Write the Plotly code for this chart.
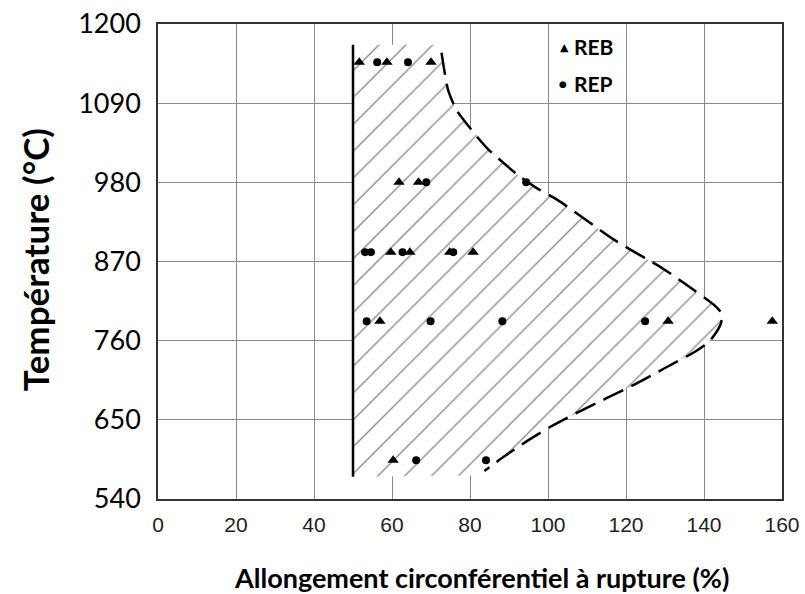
import plotly.graph_objects as go

# ---- data ----
reb_elong = [51.6, 58.7, 70.0, 61.8, 66.8, 59.7, 64.6, 74.8, 80.8, 56.9, 130.8, 157.5, 60.3]
reb_temp = [1147, 1147, 1147, 980, 980, 883, 883, 883, 883, 787, 787, 787, 594]

rep_elong = [56.2, 64.1, 68.8, 94.4, 53.1, 54.6, 62.7, 75.7, 53.5, 69.9, 88.3, 124.9, 66.2, 84.1]
rep_temp = [1147, 1147, 980, 980, 883, 883, 883, 883, 787, 787, 787, 787, 594, 594]

# envelope of the hatched zone
env_lower_elong = 50
env_temp_top = 1171
env_temp_bottom = 571
env_upper_temp = [1160, 1108, 1080, 1028, 988, 972, 955, 900, 860, 830, 810, 798, 785, 772, 758, 745, 722, 700, 680, 660, 640, 620, 600, 579]
env_upper_elong = [72.7, 74.4, 76.6, 84.3, 92.8, 97.1, 102.6, 117.0, 129.5, 137.5, 142.5, 144.5, 144.4, 143.2, 141.2, 137.8, 130.0, 122.5, 115.0, 107.5, 100.5, 94.5, 89.0, 83.7]

x_ticks = [0, 20, 40, 60, 80, 100, 120, 140, 160]
y_ticks = [540, 650, 760, 870, 980, 1090, 1200]

fig = go.Figure()

# hatched zone
poly_x = [env_lower_elong, env_upper_elong[0]] + env_upper_elong + [env_upper_elong[-1], env_lower_elong]
poly_y = [env_temp_top, env_temp_top] + env_upper_temp + [env_temp_bottom + 2, env_temp_bottom]
fig.add_trace(go.Scatter(
    x=poly_x, y=poly_y, mode="lines", fill="toself", line=dict(width=0, color="rgba(0,0,0,0)"),
    fillcolor="white",
    fillpattern=dict(shape="/", fgcolor="#111111", bgcolor="white", size=19, solidity=0.07),
    hoverinfo="skip", showlegend=False))

# left solid boundary
fig.add_trace(go.Scatter(x=[env_lower_elong, env_lower_elong], y=[env_temp_bottom, env_temp_top],
                         mode="lines", line=dict(color="black", width=2.5), showlegend=False))
# right dashed boundary
fig.add_trace(go.Scatter(x=env_upper_elong, y=env_upper_temp, mode="lines",
                         line=dict(color="black", width=2.5, dash="22px,9px", shape="spline", smoothing=0.6),
                         showlegend=False))

fig.add_trace(go.Scatter(x=reb_elong, y=reb_temp, mode="markers", name="REB",
                         marker=dict(symbol="triangle-up", size=10, color="black"), showlegend=False))
fig.add_trace(go.Scatter(x=rep_elong, y=rep_temp, mode="markers", name="REP",
                         marker=dict(symbol="circle", size=8, color="black"), showlegend=False))

fig.update_layout(
    width=805, height=594,
    margin=dict(l=158, r=23, t=24, b=95),
    paper_bgcolor="white", plot_bgcolor="white",
    xaxis=dict(range=[0, 160], tickvals=x_ticks, ticktext=[str(v) for v in x_ticks],
               showgrid=True, gridcolor="#8a8a8a", gridwidth=1, zeroline=False, automargin=False,
               showline=True, linecolor="#333", linewidth=1.5, mirror=True, ticks="",
               ticklabeloverflow="allow",
               tickfont=dict(family="Liberation Sans", size=21, color="#222"), ticklabelstandoff=6),
    yaxis=dict(range=[540, 1200], tickvals=y_ticks, ticktext=[str(v) for v in y_ticks],
               showgrid=True, gridcolor="#8a8a8a", gridwidth=1, zeroline=False, automargin=False,
               showline=True, linecolor="#333", linewidth=1.5, mirror=True, ticks="",
               ticklabeloverflow="allow",
               tickfont=dict(family="Lato", size=27, color="black"), ticklabelstandoff=10),
    showlegend=False,
)

annotations = [
    dict(text="<b>Allongement circonférentiel à rupture (%)</b>", xref="paper", yref="paper",
         x=0.519, y=-0.166, showarrow=False, font=dict(family="Lato", size=27, color="black"),
         xanchor="center", yanchor="middle"),
    dict(text="<b>Température (°C)</b>", xref="paper", yref="paper", textangle=-90,
         x=-0.197, y=0.503, showarrow=False, font=dict(family="Lato", size=35, color="black"),
         xanchor="center", yanchor="middle"),
    dict(text="▲", xref="paper", yref="paper", x=0.652, y=0.950, showarrow=False,
         font=dict(family="DejaVu Sans", size=11, color="black"), xanchor="center", yanchor="middle"),
    dict(text="<b>REB</b>", xref="paper", yref="paper", x=0.663, y=0.952, showarrow=False,
         font=dict(family="Lato", size=21, color="black"), xanchor="left", yanchor="middle"),
    dict(text="●", xref="paper", yref="paper", x=0.649, y=0.874, showarrow=False,
         font=dict(family="DejaVu Sans", size=9, color="black"), xanchor="center", yanchor="middle"),
    dict(text="<b>REP</b>", xref="paper", yref="paper", x=0.663, y=0.874, showarrow=False,
         font=dict(family="Lato", size=21, color="black"), xanchor="left", yanchor="middle"),
]
fig.update_layout(annotations=annotations)

# remove the default 8px page margin so the figure sits at the window's top-left corner
fig.write_html("out.html", config={"displayModeBar": False},
               post_script="document.body.style.margin='0';")
